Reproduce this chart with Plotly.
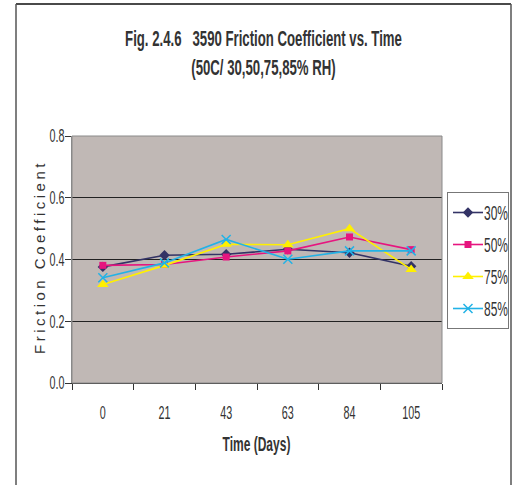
import plotly.graph_objects as go

# Test days (categorical x axis)
days = ["0", "21", "43", "63", "84", "105"]

# Friction coefficient at 50C for each relative humidity
rh_30 = [0.376, 0.414, 0.417, 0.433, 0.422, 0.378]
rh_50 = [0.381, 0.384, 0.408, 0.428, 0.473, 0.432]
rh_75 = [0.319, 0.381, 0.449, 0.448, 0.500, 0.368]
rh_85 = [0.341, 0.389, 0.465, 0.401, 0.428, 0.428]

series_names = ["30%", "50%", "75%", "85%"]
y_ticks = [0.0, 0.2, 0.4, 0.6, 0.8]

FONT = "Liberation Sans, Arial, sans-serif"
TXT = "#333333"

styles = [
    dict(color="#333366", symbol="diamond", size=8),
    dict(color="#E6157F", symbol="square", size=7),
    dict(color="#FFF000", symbol="triangle-up", size=10),
    dict(color="#22B2E6", symbol="x-thin", size=9),
]

fig = go.Figure()
for i, (name, vals, st) in enumerate(zip(series_names, [rh_30, rh_50, rh_75, rh_85], styles)):
    marker = dict(symbol=st["symbol"], size=st["size"], color=st["color"])
    if st["symbol"] == "x-thin":
        marker["line"] = dict(color=st["color"], width=1.5)
    fig.add_trace(go.Scatter(
        x=days, y=vals, name=name, mode="lines+markers",
        line=dict(color=st["color"], width=1.6),
        marker=marker, legendgroup=f"g{i}",
    ))

# outer frame of the figure
frame = dict(type="line", xref="paper", yref="paper", line=dict(color="#4a4a4a", width=2))
x_left, x_right, y_top, y_bot = (16 - 72) / 370, (511 - 72) / 370, (383 - 4) / 247, -0.45

fig.update_layout(
    width=516, height=485,
    margin=dict(l=72, r=74, t=136, b=102, autoexpand=False),
    paper_bgcolor="white",
    plot_bgcolor="#C0B8B5",
    font=dict(family=FONT, color=TXT),
    title=dict(
        text="<b>Fig. 2.4.6\u00a0\u00a0\u00a03590 Friction Coefficient vs. Time<br>(50C/ 30,50,75,85% RH)</b>",
        x=(263.5 - 72) / 370, xref="paper", xanchor="center",
        y=1 - 46 / 485, yanchor="top",
        font=dict(size=22, family=FONT, color=TXT),
    ),
    xaxis=dict(
        type="category", range=[-0.5, 5.5], tickson="boundaries",
        ticks="outside", ticklen=6, tickcolor="#333", tickwidth=1,
        showline=True, linecolor="#333", linewidth=1,
        showgrid=False, tickfont=dict(size=18, color=TXT),
        ticklabelstandoff=13,
    ),
    yaxis=dict(
        range=[0, 0.8], tickvals=y_ticks, tickformat=".1f",
        ticks="outside", ticklen=6, tickcolor="#333", tickwidth=1,
        showline=True, linecolor="#888", linewidth=1,
        showgrid=True, gridcolor="#222", gridwidth=1, zeroline=False,
        tickfont=dict(size=18, color=TXT), ticklabelstandoff=-3,
    ),
    legend=dict(
        x=(447 - 72) / 370, y=(383 - 192) / 247, xanchor="left", yanchor="top",
        bordercolor="#777", borderwidth=1, bgcolor="white",
        font=dict(size=20, color=TXT), tracegroupgap=3,
    ),
    annotations=[
        dict(text="<b>Time (Days)</b>", xref="paper", yref="paper",
             x=(256.5 - 72) / 370, y=(383 - 444) / 247, showarrow=False,
             xanchor="center", yanchor="middle", font=dict(size=20, color=TXT)),
        dict(text="Friction Coefficient", xref="paper", yref="paper",
             x=(39 - 72) / 370, y=(383 - 257) / 247, showarrow=False, textangle=-90,
             xanchor="center", yanchor="middle", font=dict(size=15, color=TXT)),
    ],
    shapes=[
        dict(type="rect", xref="paper", yref="paper", x0=0, y0=0, x1=1, y1=1,
             line=dict(color="#8a8a8a", width=1), layer="above"),
        dict(frame, x0=x_left, x1=x_right, y0=y_top, y1=y_top),
        dict(frame, x0=x_left, x1=x_left, y0=y_top, y1=y_bot, line=dict(color="#555", width=1.5)),
        dict(frame, x0=x_right, x1=x_right, y0=y_top, y1=y_bot, line=dict(color="#555", width=1.5)),
    ],
)

# condensed lettering: squeeze text horizontally about its anchor point,
# and space out the letters of the vertical axis title
text_js = """
function squeeze(nodes, s, dx) {
  nodes.forEach(function (t) {
    var b = t.getBBox();
    var a = t.getAttribute('text-anchor') || 'start';
    var cx = a === 'middle' ? b.x + b.width / 2 : (a === 'end' ? b.x + b.width : b.x);
    var tr = t.getAttribute('transform') || '';
    t.setAttribute('transform', tr + ' translate(' + (cx + (dx || 0)) + ',0) scale(' + s + ',1) translate(' + (-cx) + ',0)');
  });
}
squeeze(document.querySelectorAll('.gtitle'), 0.6);
squeeze(document.querySelectorAll('.xtick text, .ytick text'), 0.6);
squeeze(document.querySelectorAll('.legendtext'), 0.6, -4);
document.querySelectorAll('.annotation-text').forEach(function (t) {
  if (t.textContent === 'Time (Days)') { squeeze([t], 0.6); }
  if (t.textContent === 'Friction Coefficient') { t.setAttribute('letter-spacing', '3.5px'); }
});
document.querySelectorAll('.legend rect.bg').forEach(function (r) { r.setAttribute('width', 61); });
"""

fig.write_html("out.html", post_script=text_js)
